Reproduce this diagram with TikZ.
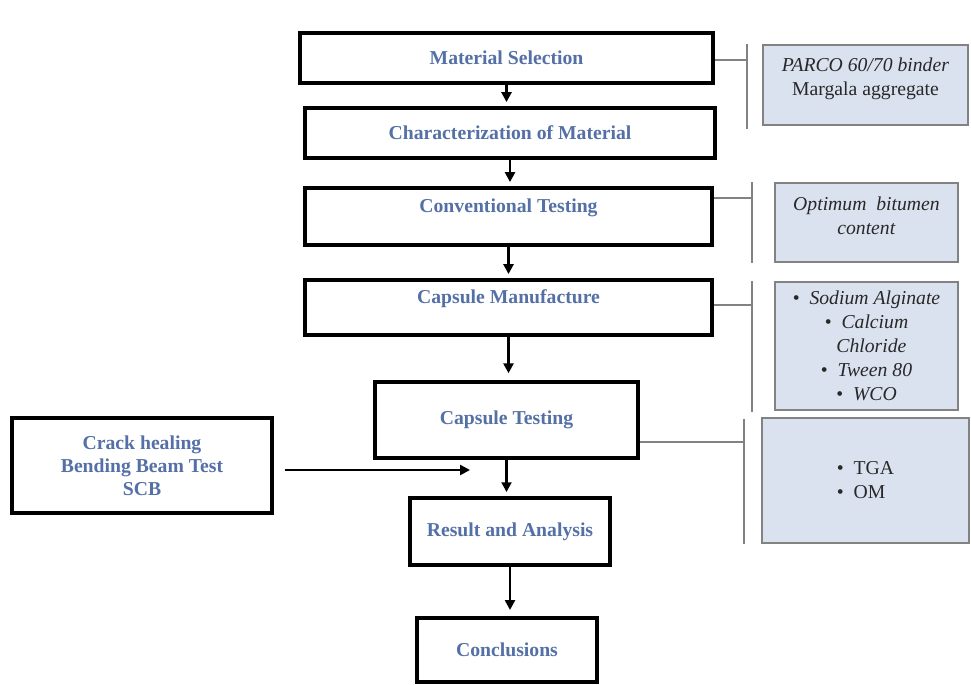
\documentclass[tikz,border=0pt]{standalone}
\usepackage{fontspec}
\setmainfont{Liberation Serif}
\usetikzlibrary{arrows.meta, positioning}
\definecolor{stepblue}{RGB}{84,112,166}
\definecolor{notefill}{RGB}{219,226,239}
\definecolor{notegray}{RGB}{130,130,130}
\definecolor{notetext}{RGB}{40,40,40}

\begin{document}
\begin{tikzpicture}[x=0.025cm, y=-0.025cm,
  mainbox/.style={draw=black, line width=2.4pt, fill=white, text=stepblue, inner sep=2pt, align=center,
    font=\fontsize{14}{16.3}\selectfont\bfseries},
  notebox/.style={draw=notegray, line width=1.2pt, fill=notefill, text=notetext, inner sep=2pt, align=center,
    font=\fontsize{14}{17}\selectfont},
  flow/.style={line width=2pt, -{Triangle[length=7pt, width=7pt]}, shorten >=3pt},
  brace/.style={draw=notegray, line width=1.2pt}]
\useasboundingbox (0,0) rectangle (971,684);

% main steps
\node[mainbox, minimum width=10.325cm, minimum height=1.25cm] (sel) at (506.5,58) {Material Selection};
\node[mainbox, minimum width=10.25cm, minimum height=1.25cm] (char) at (510,133) {Characterization of Material};
\node[mainbox, minimum width=10.175cm, minimum height=1.425cm, text depth=15pt] (conv) at (508.5,216.5) {Conventional Testing};
\node[mainbox, minimum width=10.175cm, minimum height=1.375cm, text depth=15pt] (manu) at (508.5,307.5) {Capsule Manufacture};
\node[mainbox, minimum width=6.575cm, minimum height=1.9cm] (test) at (506.5,420) {Capsule Testing};
\node[mainbox, minimum width=5cm, minimum height=1.675cm] (res) at (510,531.5) {Result and Analysis};
\node[mainbox, minimum width=4.5cm, minimum height=1.6cm] (concl) at (507,650) {Conclusions};
\node[mainbox, minimum width=6.5cm, minimum height=2.375cm] (crack) at (142,465.5) {Crack healing\\Bending Beam Test\\SCB};

% notes on the right
\node[notebox, minimum width=5.125cm, minimum height=2cm, text depth=12pt] (n1) at (865.5,85) {\textit{PARCO 60/70 binder}\\Margala aggregate};
\node[notebox, minimum width=4.575cm, minimum height=1.975cm, text depth=10pt] (n2) at (866.5,222.5) {\textit{Optimum\ \ bitumen}\\\textit{content}};
\node[notebox, minimum width=4.575cm, minimum height=3.2cm] (n3) at (866.5,346) {\textbullet\ \ \textit{Sodium Alginate}\\\textbullet\ \ \textit{Calcium}\\\ \ \textit{Chloride}\\\textbullet\ \ \textit{Tween 80}\\\textbullet\ \ \textit{WCO}};
\node[notebox, minimum width=5.175cm, minimum height=3.125cm, align=left] (n4) at (865.5,480.5) {\textbullet\ \ TGA\\\textbullet\ \ OM};

% brackets
\coordinate (k1) at (747,60);
\coordinate (k2) at (752,198);
\coordinate (k3) at (752,305);
\coordinate (k4) at (744,442);
\draw[brace] (sel.east |- k1) -- (k1);
\draw[brace] (k1 |- n1.north) -- ([yshift=-2pt]k1 |- n1.south);
\draw[brace] (conv.east |- k2) -- (k2);
\draw[brace] (k2 |- n2.north) -- (k2 |- n2.south);
\draw[brace] (manu.east |- k3) -- (k3);
\draw[brace] (k3 |- n3.north) -- ([yshift=-1pt]k3 |- n3.south);
\draw[brace] (test.east |- k4) -- (k4);
\draw[brace] ([yshift=-1pt]k4 |- n4.north) -- (k4 |- n4.south);

% arrows
\coordinate (hit) at (470,470);
\draw[flow] (sel.south) -- (sel.south |- char.north);
\draw[flow] (char.south) -- (char.south |- conv.north);
\draw[flow] (conv.south) -- (conv.south |- manu.north);
\draw[flow, shorten >=5pt] (manu.south) -- (manu.south |- test.north);
\draw[flow] (test.south) -- (test.south |- res.north);
\draw[flow, shorten >=4.5pt] (res.south) -- (res.south |- concl.north);
\draw[flow, shorten <=8pt, shorten >=0pt] (crack.east |- hit) -- (hit);
\end{tikzpicture}
\end{document}
